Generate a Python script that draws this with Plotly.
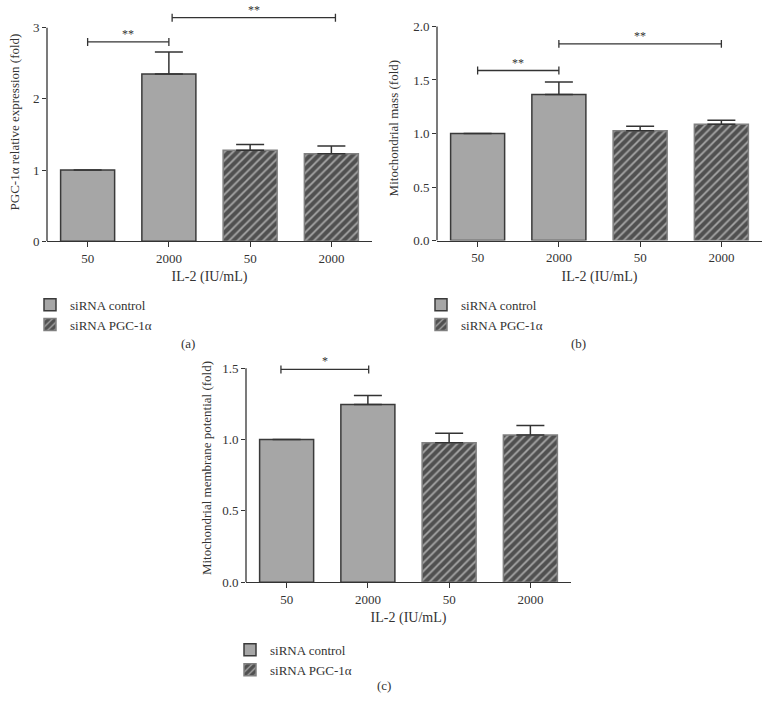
import plotly.graph_objects as go

W, H = 770, 719
FONT = "Liberation Serif"
TXT = "#333333"

# ---- data ----
tick_labels = ["50", "2000", "50", "2000"]
ctrl_x = [0, 1]
pgc_x = [2, 3]

a_ctrl = [1.0, 2.35]
a_ctrl_err = [None, 0.31]
a_pgc = [1.28, 1.23]
a_pgc_err = [0.08, 0.11]

b_ctrl = [1.0, 1.363]
b_ctrl_err = [None, 0.117]
b_pgc = [1.025, 1.086]
b_pgc_err = [0.042, 0.037]

c_ctrl = [1.0, 1.246]
c_ctrl_err = [None, 0.063]
c_pgc = [0.978, 1.031]
c_pgc_err = [0.065, 0.067]

a_brackets = [(0.0, 1.0, 2.80, "**"), (1.04, 3.05, 3.14, "**")]
b_brackets = [(0.0, 1.0, 1.588, "**"), (1.0, 3.0, 1.837, "**")]
c_brackets = [(-0.07, 1.01, 1.491, "*")]

a_yticks = [0, 1, 2, 3]
b_yticks = [0.0, 0.5, 1.0, 1.5, 2.0]
c_yticks = [0.0, 0.5, 1.0, 1.5]

# ---- panel geometry (pixels) ----
panels = [
    dict(key="", xpx=(47, 372), y0=244.0, ppu=72.0, top=3.0, ext=3.35,
         title="PGC-1α relative expression (fold)", ticks=a_yticks, fmt="d", standoff=10,
         ctrl=a_ctrl, ctrl_err=a_ctrl_err, pgc=a_pgc, pgc_err=a_pgc_err,
         brackets=a_brackets, legend="legend", label="(a)", labelpos=(188, 347)),
    dict(key="2", xpx=(437, 762), y0=243.3, ppu=108.3, top=2.0, ext=2.1,
         title="Mitochondrial mass (fold)", ticks=b_yticks, fmt=".1f", standoff=11,
         ctrl=b_ctrl, ctrl_err=b_ctrl_err, pgc=b_pgc, pgc_err=b_pgc_err,
         brackets=b_brackets, legend="legend2", label="(b)", labelpos=(578, 347)),
    dict(key="3", xpx=(246, 571), y0=588.7, ppu=144.27, top=1.5, ext=1.6,
         title="Mitochondrial membrane potential (fold)", ticks=c_yticks, fmt=".1f", standoff=7,
         ctrl=c_ctrl, ctrl_err=c_ctrl_err, pgc=c_pgc, pgc_err=c_pgc_err,
         brackets=c_brackets, legend="legend3", label="(c)", labelpos=(384, 693)),
]

fig = go.Figure()
shapes = []
annotations = []
layout = dict(
    width=W, height=H, margin=dict(l=0, r=0, t=0, b=0),
    paper_bgcolor="white", plot_bgcolor="white",
    barmode="overlay", font=dict(family=FONT, size=13, color=TXT),
)

BAR_W = 0.665
for p in panels:
    k = p["key"]
    xa, ya = "x" + k, "y" + k
    fig.add_trace(go.Bar(
        x=ctrl_x, y=p["ctrl"], width=BAR_W, xaxis=xa, yaxis=ya,
        name="siRNA control", legend=p["legend"],
        marker=dict(color="#a6a6a6", line=dict(color="#3a3a3a", width=1.5)),
        error_y=dict(type="data", array=p["ctrl_err"], arrayminus=[0, 0], symmetric=False,
                     color="#333333", thickness=1.5, width=14),
    ))
    fig.add_trace(go.Bar(
        x=pgc_x, y=p["pgc"], width=BAR_W, xaxis=xa, yaxis=ya,
        name="siRNA PGC-1α", legend=p["legend"],
        marker=dict(color="#000000",
                    pattern=dict(shape="/", bgcolor="#a0a0a0", fgcolor="#000000",
                                 size=6, solidity=0.68, fillmode="overlay"),
                    line=dict(color="#808080", width=1.5)),
        error_y=dict(type="data", array=p["pgc_err"], arrayminus=[0, 0], symmetric=False,
                     color="#333333", thickness=1.5, width=14),
    ))
    x0p, x1p = p["xpx"]
    ydom = [1 - p["y0"] / H, min(1.0, 1 - (p["y0"] - p["ext"] * p["ppu"]) / H)]
    layout["xaxis" + k] = dict(
        domain=[x0p / W, x1p / W], range=[-0.5, 3.5], anchor=ya,
        tickvals=[0, 1, 2, 3], ticktext=tick_labels,
        showline=True, linecolor="#333333", linewidth=1.3,
        ticks="outside", ticklen=5, tickcolor="#333333", tickwidth=1.3,
        showgrid=False, zeroline=False,
        tickfont=dict(family=FONT, size=13, color=TXT),
        title=dict(text="IL-2 (IU/mL)", font=dict(family=FONT, size=14, color=TXT), standoff=6),
    )
    layout["yaxis" + k] = dict(
        domain=ydom, range=[0, p["ext"]], anchor=xa,
        tickvals=p["ticks"], tickformat=p["fmt"],
        showline=False, ticks="outside", ticklen=4, tickcolor="#333333", tickwidth=1.3,
        showgrid=False, zeroline=False,
        tickfont=dict(family=FONT, size=13, color=TXT),
        title=dict(text=p["title"], font=dict(family=FONT, size=13, color=TXT),
                   standoff=p["standoff"]),
    )
    # y axis line up to the last tick
    shapes.append(dict(type="line", xref=xa + " domain", yref=ya, x0=0, x1=0,
                       y0=0, y1=p["top"], line=dict(color="#333333", width=1.3)))
    # significance brackets
    cap = 4.0 / p["ppu"]
    for (bx0, bx1, by, star) in p["brackets"]:
        shapes.append(dict(type="line", xref=xa, yref=ya, x0=bx0, x1=bx1, y0=by, y1=by,
                           line=dict(color="#333333", width=1.3)))
        for bx in (bx0, bx1):
            shapes.append(dict(type="line", xref=xa, yref=ya, x0=bx, x1=bx,
                               y0=by - cap, y1=by + cap,
                               line=dict(color="#333333", width=1.3)))
        annotations.append(dict(xref=xa, yref=ya, x=(bx0 + bx1) / 2, y=by, text=star,
                                showarrow=False, yanchor="middle", yshift=8,
                                font=dict(family=FONT, size=12, color=TXT)))
    lx, ly = p["labelpos"]
    annotations.append(dict(xref="paper", yref="paper", x=lx / W, y=1 - ly / H, text=p["label"],
                            showarrow=False, xanchor="center", yanchor="middle",
                            font=dict(family=FONT, size=13, color=TXT)))

leg_common = dict(xanchor="left", yanchor="top", bgcolor="rgba(0,0,0,0)",
                  tracegroupgap=0, font=dict(family=FONT, size=13, color=TXT),
                  itemwidth=30, traceorder="normal")
layout["legend"] = dict(x=30 / W, y=1 - 293 / H, **leg_common)
layout["legend2"] = dict(x=421 / W, y=1 - 293 / H, **leg_common)
layout["legend3"] = dict(x=230 / W, y=1 - 642 / H, **leg_common)
layout["shapes"] = shapes
layout["annotations"] = annotations
layout["showlegend"] = True

fig.update_layout(**layout)
fig.write_html("out.html", config={"displayModeBar": False},
               post_script="document.body.style.margin='0px';")
